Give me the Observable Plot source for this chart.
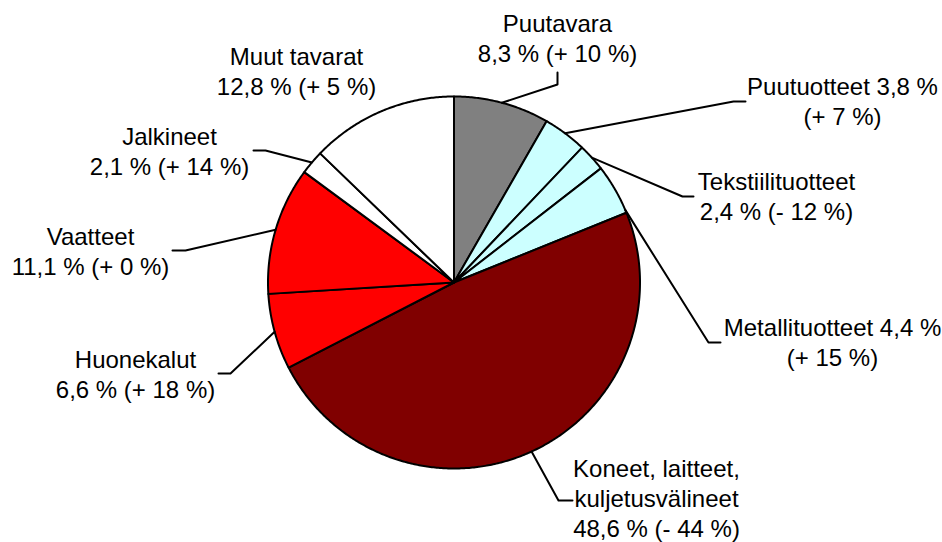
<!DOCTYPE html>
<html><head><meta charset="utf-8">
<script src="https://cdn.jsdelivr.net/npm/d3@7"></script>
<script src="https://cdn.jsdelivr.net/npm/@observablehq/plot@0.6"></script>
<style>body{margin:0;background:#fff}</style>
</head><body><div id="chart"></div>
<script>
// ---- data ----
const categories = ["Puutavara", "Puutuotteet", "Tekstiilituotteet", "Metallituotteet",
  "Koneet, laitteet, kuljetusvälineet", "Huonekalut", "Vaatteet", "Jalkineet", "Muut tavarat"];
const shares = [8.3, 3.8, 2.4, 4.4, 48.6, 6.6, 11.1, 2.1, 12.8];   // % of total
const changes = [10, 7, -12, 15, -44, 18, 0, 14, 5];               // % change

// ---- styles ----
const sliceColors = ["#808080", "#ccffff", "#ccffff", "#ccffff", "#800000",
  "#ff0000", "#ff0000", "#ffffff", "#ffffff"];

// ---- layout (pixels) ----
const W = 942, H = 542, CX = 453.5, CY = 282, R = 186;
const labelLayout = [
  {label: [557, 37],  elbow: [557, 84],  end: [557, 72],  frac: 0.5,  style: "name/share"},
  {label: [842, 100], elbow: [733, 101], end: [745, 101], frac: 0.5,  style: "nameShare/change"},
  {label: [776, 195], elbow: [682, 196], end: [693, 196], frac: 0.5,  style: "name/share"},
  {label: [832, 341], elbow: [708, 342], end: [720, 342], frac: 0.94, style: "nameShare/change"},
  {label: [656, 497], elbow: [558, 500], end: [572, 500], frac: 0.5,  style: "wrapName/share"},
  {label: [135, 373], elbow: [230, 373], end: [218, 373], frac: 0.5,  style: "name/share"},
  {label: [90, 250],  elbow: [185, 250], end: [172, 250], frac: 0.5,  style: "name/share"},
  {label: [169, 150], elbow: [265, 150], end: [253, 150], frac: 0.5,  style: "name/share"},
  {label: [296, 70],  elbow: null,       end: null,       frac: 0.5,  style: "name/share"}
];
const toUnit = ([px, py]) => ({u: (px - CX) / R, v: (CY - py) / R});

// ---- geometry from data ----
const arcs = d3.pie().sort(null).value(d => d)(shares);
const polar = a => ({u: Math.sin(a), v: Math.cos(a)});

const fmtShare = s => s.toFixed(1).replace(".", ",") + " %";
const fmtChange = c => "(" + (c < 0 ? "- " : "+ ") + Math.abs(c) + " %)";

const sliceMarks = arcs.map((a, i) => {
  const pts = [{u: 0, v: 0}];
  const n = Math.max(2, Math.ceil((a.endAngle - a.startAngle) / (Math.PI / 360)));
  for (let k = 0; k <= n; k++) pts.push(polar(a.startAngle + (a.endAngle - a.startAngle) * k / n));
  pts.push({u: 0, v: 0});
  return Plot.line(pts, {x: "u", y: "v", fill: sliceColors[i], stroke: "black",
    strokeWidth: 2, strokeLinejoin: "round"});
});

const leaderPts = [];
arcs.forEach((a, i) => {
  const L = labelLayout[i];
  if (!L.elbow) return;
  const p = polar(a.startAngle + (a.endAngle - a.startAngle) * L.frac);
  leaderPts.push({id: i, ...p}, {id: i, ...toUnit(L.elbow)}, {id: i, ...toUnit(L.end)});
});

const labels = categories.map((name, i) => {
  const L = labelLayout[i];
  let text;
  if (L.style === "nameShare/change") text = name + " " + fmtShare(shares[i]) + "\n" + fmtChange(changes[i]);
  else if (L.style === "wrapName/share") text = name.replace(", kulj", ",\nkulj") + "\n" + fmtShare(shares[i]) + " " + fmtChange(changes[i]);
  else text = name + "\n" + fmtShare(shares[i]) + " " + fmtChange(changes[i]);
  return {text, ...toUnit(L.label)};
});

const chart = Plot.plot({
  width: W, height: H, margin: 0,
  x: {axis: null, domain: [-CX / R, (W - CX) / R]},
  y: {axis: null, domain: [-(H - CY) / R, CY / R]},
  style: {background: "white", fontFamily: "'Liberation Sans', Arial, sans-serif"},
  marks: [
    ...sliceMarks,
    Plot.line(leaderPts, {x: "u", y: "v", z: "id", stroke: "black", strokeWidth: 2}),
    Plot.text(labels, {x: "u", y: "v", text: "text", fontSize: 24, lineHeight: 1.25,
      fill: "black", fontFamily: "'Liberation Sans', Arial, sans-serif"})
  ]
});
document.getElementById("chart").appendChild(chart);
</script>
</body></html>
